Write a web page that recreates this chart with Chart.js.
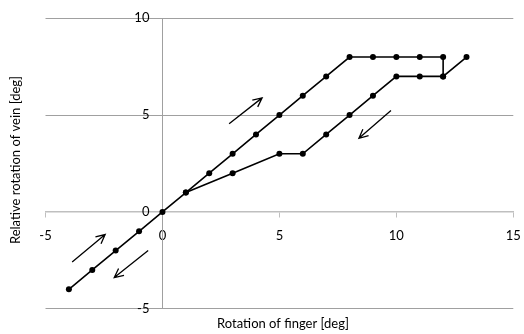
<!DOCTYPE html>
<html>
<head>
<meta charset="utf-8">
<script src="https://cdn.jsdelivr.net/npm/chart.js@4.4.1/dist/chart.umd.min.js"></script>
<style>
  html, body { margin: 0; padding: 0; background: #fff; }
  #wrap { width: 524px; height: 334px; }
</style>
</head>
<body>
<div id="wrap"><canvas id="chart"></canvas></div>
<script>
// loading path (finger rotated up), then the return path
const upX = [-4, -3, -2, -1, 0, 1, 2, 3, 4, 5, 6, 7, 8, 9, 10, 11, 12, 12];
const upY = [-4, -3, -2, -1, 0, 1, 2, 3, 4, 5, 6, 7, 8, 8, 8, 8, 8, 7];
const downX = [13, 12, 11, 10, 9, 8, 7, 6, 5, 3, 1];
const downY = [8, 7, 7, 7, 6, 5, 4, 3, 3, 2, 1];

// direction arrows, in data units: [x0, y0, x1, y1]
const arrows = [
  [2.85, 4.55, 4.26, 5.89],
  [9.77, 5.24, 8.4, 3.8],
  [-3.86, -2.59, -2.45, -1.17],
  [-0.61, -1.99, -2.06, -3.39]
];

const xTicks = [-5, 0, 5, 10, 15];
const yTicks = [-5, 0, 5, 10];

const FONT = 'Lato, "Open Sans", sans-serif';

function pts(xs, ys) {
  return xs.map((x, i) => ({ x: x, y: ys[i] }));
}

// labels may overhang the plot; don't let them shrink it
function noPad(s) {
  s.paddingLeft = s.paddingRight = s.paddingTop = s.paddingBottom = 0;
}

const arrowPlugin = {
  id: 'arrows',
  afterDatasetsDraw(chart) {
    const { ctx, scales: { x, y } } = chart;
    ctx.save();
    ctx.strokeStyle = '#000';
    ctx.lineWidth = 1.3;
    arrows.forEach(a => {
      const x0 = x.getPixelForValue(a[0]), y0 = y.getPixelForValue(a[1]);
      const x1 = x.getPixelForValue(a[2]), y1 = y.getPixelForValue(a[3]);
      const ang = Math.atan2(y1 - y0, x1 - x0);
      const h = 10;
      ctx.beginPath();
      ctx.moveTo(x0, y0);
      ctx.lineTo(x1, y1);
      ctx.moveTo(x1 - h * Math.cos(ang - 0.45), y1 - h * Math.sin(ang - 0.45));
      ctx.lineTo(x1, y1);
      ctx.lineTo(x1 - h * Math.cos(ang + 0.45), y1 - h * Math.sin(ang + 0.45));
      ctx.stroke();
    });
    ctx.restore();
  }
};

const titlePlugin = {
  id: 'axisTitles',
  afterDraw(chart) {
    const ctx = chart.ctx;
    ctx.save();
    ctx.fillStyle = '#000';
    ctx.font = '13px ' + FONT;
    ctx.textAlign = 'center';
    ctx.textBaseline = 'middle';
    ctx.fillText('Rotation of finger [deg]', 283, 324);
    ctx.translate(16, 160);
    ctx.rotate(-Math.PI / 2);
    ctx.fillText('Relative rotation of vein [deg]', 0, 0);
    ctx.restore();
  }
};

const lineStyle = {
  showLine: true,
  borderColor: '#000',
  backgroundColor: '#000',
  borderWidth: 1.6,
  pointRadius: 3,
  pointHoverRadius: 3,
  pointBorderWidth: 0,
  tension: 0
};

new Chart(document.getElementById('chart'), {
  type: 'scatter',
  data: {
    datasets: [
      Object.assign({ label: 'up', data: pts(upX, upY) }, lineStyle),
      Object.assign({ label: 'down', data: pts(downX, downY) }, lineStyle)
    ]
  },
  options: {
    responsive: true,
    maintainAspectRatio: false,
    animation: false,
    layout: { padding: { left: 45.5, right: 10.7, top: 18.3, bottom: 25.3 } },
    plugins: { legend: { display: false }, tooltip: { enabled: false } },
    scales: {
      x: {
        type: 'linear',
        position: { y: 0 },
        min: xTicks[0],
        max: xTicks[xTicks.length - 1],
        afterBuildTicks: s => { s.ticks = xTicks.map(v => ({ value: v })); },
        afterFit: noPad,
        grid: { color: 'transparent', tickColor: '#bfbfbf', tickLength: 5, lineWidth: 1 },
        border: { color: '#bfbfbf', width: 1.5 },
        ticks: { color: '#000', font: { family: FONT, size: 13 }, padding: 11, maxRotation: 0 }
      },
      y: {
        type: 'linear',
        position: { x: 0 },
        min: yTicks[0],
        max: yTicks[yTicks.length - 1],
        afterBuildTicks: s => { s.ticks = yTicks.map(v => ({ value: v })); },
        afterFit: noPad,
        grid: {
          color: c => (c.tick && c.tick.value === 0 ? 'transparent' : '#a0a0a0'),
          drawTicks: false,
          lineWidth: 1
        },
        border: { color: '#a0a0a0', width: 1 },
        // labels are right-aligned on the axis itself; two en spaces keep them off it
        ticks: {
          color: '#000',
          font: { family: FONT, size: 13 },
          callback: v => v + '\u2002\u2002'
        }
      }
    }
  },
  plugins: [arrowPlugin, titlePlugin]
});
</script>
</body>
</html>
